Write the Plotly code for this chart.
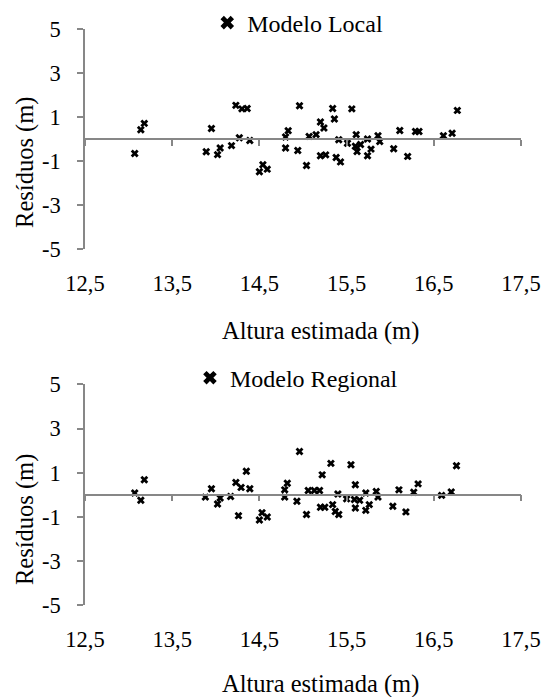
import plotly.graph_objects as go

# ---- data ----
x_local = [13.07, 13.14, 13.18, 13.89, 13.95, 14.02, 14.05, 14.18, 14.23, 14.30, 14.36, 14.27, 14.39,
           14.50, 14.54, 14.59, 14.80, 14.83, 14.80, 14.94, 14.96, 15.04, 15.07, 15.15, 15.20, 15.24,
           15.34, 15.36, 15.20, 15.26, 15.38, 15.43, 15.41, 15.51, 15.56, 15.61, 15.60, 15.62, 15.66,
           15.74, 15.74, 15.78, 15.86, 15.88, 16.04, 16.11, 16.20, 16.29, 16.33, 16.61, 16.71, 16.77]
res_local = [-0.66, 0.42, 0.71, -0.58, 0.48, -0.71, -0.41, -0.30, 1.53, 1.37, 1.39, 0.06, -0.07,
             -1.49, -1.17, -1.37, 0.09, 0.38, -0.41, -0.52, 1.51, -1.20, 0.12, 0.20, 0.77, 0.50,
             1.39, 0.91, -0.76, -0.72, -0.84, -1.04, -0.03, -0.19, 1.37, 0.20, -0.33, -0.57, -0.25,
             0.00, -0.76, -0.46, 0.15, -0.11, -0.44, 0.39, -0.79, 0.34, 0.34, 0.15, 0.26, 1.30]

x_regional = [13.07, 13.14, 13.18, 13.88, 13.95, 14.02, 14.05, 14.17, 14.23, 14.29, 14.35, 14.39, 14.26,
              14.50, 14.53, 14.59, 14.79, 14.82, 14.79, 14.93, 14.96, 15.04, 15.06, 15.13, 15.19, 15.22,
              15.32, 15.20, 15.25, 15.34, 15.37, 15.41, 15.40, 15.50, 15.55, 15.60, 15.59, 15.60, 15.65,
              15.72, 15.72, 15.76, 15.84, 15.86, 16.03, 16.10, 16.18, 16.27, 16.32, 16.59, 16.70, 16.76]
res_regional = [0.08, -0.25, 0.68, -0.11, 0.27, -0.42, -0.15, -0.08, 0.55, 0.33, 1.06, 0.27, -0.95,
                -1.15, -0.82, -1.01, 0.22, 0.52, -0.11, -0.30, 1.96, -0.90, 0.19, 0.19, 0.19, 0.90,
                1.42, -0.57, -0.57, -0.45, -0.76, -0.90, 0.03, -0.19, 1.36, 0.45, -0.22, -0.60, -0.25,
                0.08, -0.71, -0.45, 0.15, -0.11, -0.52, 0.22, -0.78, 0.11, 0.49, -0.03, 0.12, 1.31]

y_tickvals = [-5, -3, -1, 1, 3, 5]
y_ticktext = ["-5", "-3", "-1", "1", "3", "5"]

names = ["Modelo Local", "Modelo Regional"]
x_title = "Altura estimada (m)"
y_title = "Resíduos (m)"

FONT = "Liberation Serif, Times New Roman, serif"
GRAY = "#878787"
FS_TICK = 22.5
FS_TITLE = 24.5
FS_LEG = 24

fig = go.Figure()
marker = dict(symbol="x", size=7, color="black", line=dict(width=0))
fig.add_trace(go.Scatter(x=x_local, y=res_local, mode="markers", name=names[0], marker=marker,
                         xaxis="x", yaxis="y", legend="legend"))
fig.add_trace(go.Scatter(x=x_regional, y=res_regional, mode="markers", name=names[1], marker=marker,
                         xaxis="x2", yaxis="y2", legend="legend2"))
# empty traces to register the zero-line axes
fig.add_trace(go.Scatter(x=[], y=[], xaxis="x3", yaxis="y", showlegend=False, hoverinfo="skip"))
fig.add_trace(go.Scatter(x=[], y=[], xaxis="x4", yaxis="y2", showlegend=False, hoverinfo="skip"))

top_dom = [0.618, 1.0]
bot_dom = [0.0, 0.383]

xcommon = dict(range=[12.5, 17.5], tick0=12.5, dtick=1, showgrid=False, zeroline=False,
               tickformat=".1f", tickfont=dict(family=FONT, size=FS_TICK, color="black"),
               ticklabeloverflow="allow")
ycommon = dict(range=[-5, 5], tickvals=y_tickvals, ticktext=y_ticktext, showgrid=False, zeroline=False,
               showline=True, linecolor=GRAY, linewidth=1.5, ticks="outside", ticklen=6, tickcolor=GRAY,
               tickwidth=1.5, tickfont=dict(family=FONT, size=FS_TICK, color="black"), ticklabelstandoff=12)

fig.update_layout(
    width=543, height=697,
    margin=dict(l=85, r=22, t=29, b=92, autoexpand=False),
    paper_bgcolor="white", plot_bgcolor="white",
    separators=",.",
    font=dict(family=FONT, size=FS_TICK, color="black"),
    xaxis=dict(**xcommon, anchor="y", showline=False, ticks="", ticklabelstandoff=18),
    yaxis=dict(**ycommon, domain=top_dom, anchor="x"),
    xaxis2=dict(**xcommon, anchor="y2", showline=False, ticks="", ticklabelstandoff=18),
    yaxis2=dict(**ycommon, domain=bot_dom, anchor="x2"),
    xaxis3=dict(**xcommon, overlaying="x", anchor="free", position=(top_dom[0] + top_dom[1]) / 2,
                showline=True, linecolor=GRAY, linewidth=1.5, ticks="outside", ticklen=6,
                tickcolor=GRAY, tickwidth=1.5, showticklabels=False),
    xaxis4=dict(**xcommon, overlaying="x2", anchor="free", position=(bot_dom[0] + bot_dom[1]) / 2,
                showline=True, linecolor=GRAY, linewidth=1.5, ticks="outside", ticklen=6,
                tickcolor=GRAY, tickwidth=1.5, showticklabels=False),
    legend=dict(x=0.488, y=1.0104, xanchor="center", yanchor="middle", bgcolor="rgba(0,0,0,0)",
                font=dict(family=FONT, size=FS_LEG), itemsizing="constant"),
    legend2=dict(x=0.485, y=0.394, xanchor="center", yanchor="middle", bgcolor="rgba(0,0,0,0)",
                 font=dict(family=FONT, size=FS_LEG), itemsizing="constant"),
    showlegend=True,
)

for ypos in [0.476, -0.137]:
    fig.add_annotation(text=x_title, xref="paper", yref="paper", x=0.54, y=ypos,
                       xanchor="center", yanchor="middle", showarrow=False,
                       font=dict(family=FONT, size=FS_TITLE, color="black"))
for ypos in [0.769, 0.149]:
    fig.add_annotation(text=y_title, xref="paper", yref="paper", x=-0.138, y=ypos,
                       xanchor="center", yanchor="middle", showarrow=False, textangle=-90,
                       font=dict(family=FONT, size=FS_TITLE, color="black"))

# remove the default 8px page margin so the figure fills the window exactly
fig.write_html("out.html", config={"displayModeBar": False},
               post_script="document.body.style.margin='0px';")
